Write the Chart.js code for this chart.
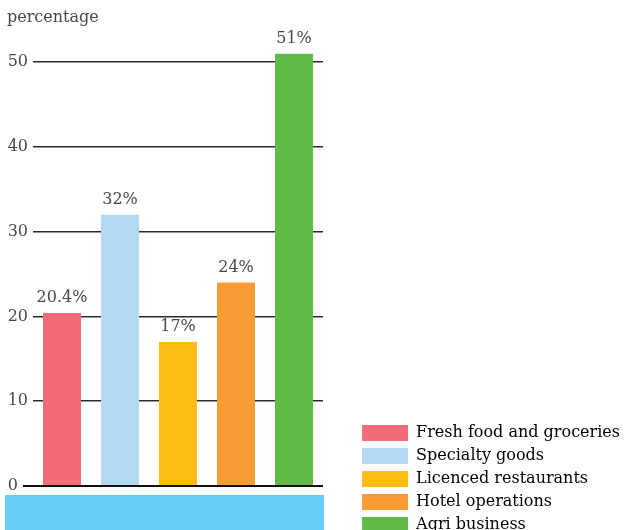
<!DOCTYPE html>
<html>
<head>
<meta charset="utf-8">
<script src="https://cdn.jsdelivr.net/npm/chart.js@4/dist/chart.umd.min.js"></script>
<style>
  html, body { margin: 0; padding: 0; background: #fff; overflow: hidden; }
  #wrap { width: 625px; height: 540px; }
</style>
</head>
<body>
<div id="wrap"><canvas id="grafico"></canvas></div>
<script>
// Datos del gráfico
const categorias = ['Fresh food and groceries', 'Specialty goods', 'Licenced restaurants', 'Hotel operations', 'Agri business'];
const valores = [20.4, 32, 17, 24, 51];
const etiquetas = ['20.4%', '32%', '17%', '24%', '51%'];
const colores = ['#F26C77', '#B3D8F1', '#FBBC15', '#F79B35', '#5FBB46'];
const marcasY = [0, 10, 20, 30, 40, 50];

const FUENTE = 'DejaVu Serif';
const COLOR_TEXTO = '#484848';
const BORDE_DERECHO = 323; // borde derecho del área de barras
const MARGEN_DER = -5;     // la leyenda llega hasta el borde del lienzo

// Etiquetas de valor encima de cada barra
const etiquetasBarras = {
    id: 'etiquetasBarras',
    afterDatasetsDraw(chart) {
        const ctx = chart.ctx;
        const barras = chart.getDatasetMeta(0).data;
        ctx.save();
        ctx.font = '16px "' + FUENTE + '"';
        ctx.fillStyle = COLOR_TEXTO;
        ctx.textAlign = 'center';
        ctx.textBaseline = 'bottom';
        barras.forEach((barra, i) => {
            ctx.fillText(etiquetas[i], barra.x, barra.y - 7);
        });
        ctx.restore();
    }
};

// Franja azul bajo el eje
const franja = {
    id: 'franja',
    beforeDraw(chart) {
        const a = chart.chartArea;
        const ctx = chart.ctx;
        ctx.save();
        ctx.fillStyle = '#67CEF5';
        ctx.fillRect(5, a.bottom + 9, a.right + 1 - 5, chart.height - a.bottom - 9);
        ctx.restore();
    }
};

document.addEventListener('DOMContentLoaded', () => {
    const ctx = document.getElementById('grafico').getContext('2d');
    new Chart(ctx, {
        type: 'bar',
        data: {
            labels: categorias,
            datasets: [{
                data: valores,
                backgroundColor: colores,
                borderWidth: 0,
                categoryPercentage: 1,
                barPercentage: 0.655
            }]
        },
        options: {
            responsive: true,
            maintainAspectRatio: false,
            animation: false,
            layout: { padding: { left: 7, right: MARGEN_DER, top: 0, bottom: 0 } },
            plugins: {
                tooltip: { enabled: false },
                title: {
                    display: true,
                    text: 'percentage',
                    align: 'start',
                    color: COLOR_TEXTO,
                    font: { family: FUENTE, size: 16, weight: 'normal' },
                    padding: { top: 8, bottom: 18 }
                },
                legend: {
                    position: 'right',
                    align: 'end',
                    maxWidth: 320,
                    labels: {
                        boxWidth: 46,
                        boxHeight: 16,
                        padding: 7,
                        color: COLOR_TEXTO,
                        font: { family: FUENTE, size: 16 },
                        generateLabels: () => categorias.map((c, i) => ({
                            text: c,
                            fillStyle: colores[i],
                            strokeStyle: colores[i],
                            lineWidth: 0,
                            index: i
                        }))
                    }
                }
            },
            scales: {
                x: {
                    display: true,
                    grid: { display: false },
                    border: { display: false },
                    ticks: { display: false },
                    afterFit: s => { s.height = 54; }
                },
                y: {
                    min: 0,
                    max: 52,
                    afterFit: s => { s.width = 26; },
                    afterBuildTicks: s => { s.ticks = marcasY.map(v => ({ value: v })); },
                    border: { display: false },
                    grid: {
                        tickLength: 10,
                        color: c => c.tick.value === 0 ? '#111' : '#2a2a2a',
                        lineWidth: c => c.tick.value === 0 ? 2 : 1.5,
                        tickColor: c => c.tick.value === 0 ? '#111' : 'rgba(0,0,0,0)',
                        tickWidth: 2
                    },
                    ticks: {
                        padding: -5,
                        color: COLOR_TEXTO,
                        font: { family: FUENTE, size: 16 },
                        // el cero se separa igual que los demás, pero desde su línea más larga
                        callback: v => v === 0 ? '0\u2007' : String(v)
                    }
                },
                hueco: {
                    type: 'linear',
                    position: 'right',
                    display: true,
                    grid: { display: false },
                    border: { display: false },
                    ticks: { display: false },
                    afterFit: s => { s.width = s.chart.width - MARGEN_DER - BORDE_DERECHO - s.chart.legend.width; }
                }
            }
        },
        plugins: [etiquetasBarras, franja]
    });
});
</script>
</body>
</html>
